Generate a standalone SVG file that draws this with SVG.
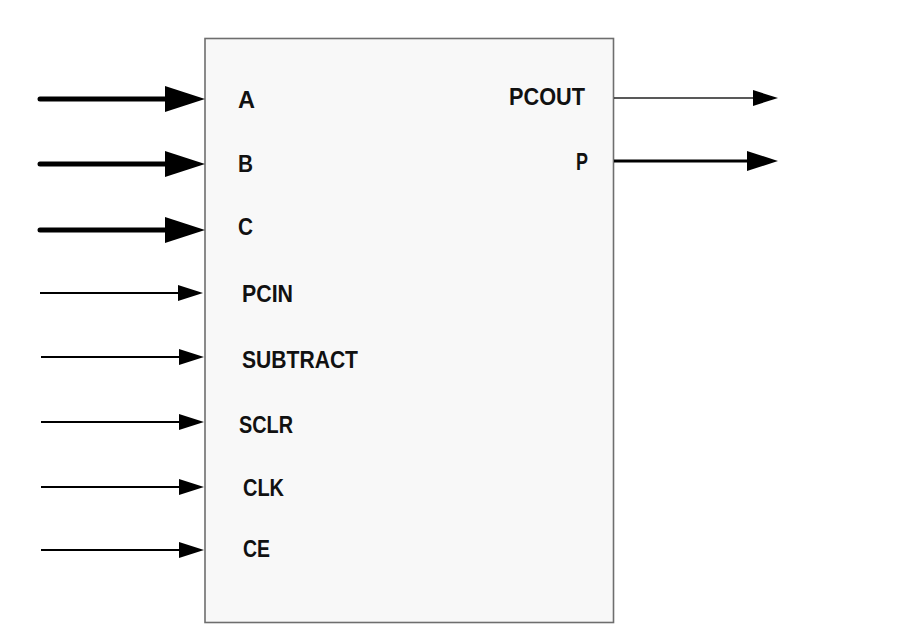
<svg xmlns="http://www.w3.org/2000/svg" width="899" height="642" viewBox="0 0 899 642">
<style>
.lbl{font-family:"Liberation Sans",Arial,sans-serif;font-weight:bold;font-size:24px;fill:#111;}
.thick{stroke:#000;stroke-width:5;stroke-linecap:round;fill:none;}
.thin{stroke:#000;stroke-width:2;fill:none;}
.out1{stroke:#222;stroke-width:1.6;fill:none;}
.out2{stroke:#000;stroke-width:3;fill:none;}
</style>
<defs>
<marker id="hBig" markerUnits="userSpaceOnUse" markerWidth="40" markerHeight="26" refX="0" refY="13" orient="auto" overflow="visible"><path d="M0,0 L40,13 L0,26 Z" fill="#000"/></marker>
<marker id="hSmall" markerUnits="userSpaceOnUse" markerWidth="25" markerHeight="16" refX="0" refY="8" orient="auto" overflow="visible"><path d="M0,0 L25,8 L0,16 Z" fill="#000"/></marker>
<marker id="hMid" markerUnits="userSpaceOnUse" markerWidth="31" markerHeight="20" refX="0" refY="10" orient="auto" overflow="visible"><path d="M0,0 L31,10 L0,20 Z" fill="#000"/></marker>
</defs>
<rect width="899" height="642" fill="#fff"/>
<g id="block">
<rect x="205" y="38.5" width="408.5" height="584" fill="#f8f8f8" stroke="#6e6e6e" stroke-width="1.6"/>
<text class="lbl" x="238" y="108" textLength="17" lengthAdjust="spacingAndGlyphs">A</text>
<text class="lbl" x="238" y="172" textLength="15" lengthAdjust="spacingAndGlyphs">B</text>
<text class="lbl" x="238" y="235" textLength="15" lengthAdjust="spacingAndGlyphs">C</text>
<text class="lbl" x="242" y="302" textLength="51" lengthAdjust="spacingAndGlyphs">PCIN</text>
<text class="lbl" x="242" y="368" textLength="116" lengthAdjust="spacingAndGlyphs">SUBTRACT</text>
<text class="lbl" x="239" y="433" textLength="54" lengthAdjust="spacingAndGlyphs">SCLR</text>
<text class="lbl" x="243" y="496" textLength="41" lengthAdjust="spacingAndGlyphs">CLK</text>
<text class="lbl" x="243" y="557" textLength="27" lengthAdjust="spacingAndGlyphs">CE</text>
<text class="lbl" x="509" y="105" textLength="76" lengthAdjust="spacingAndGlyphs">PCOUT</text>
<text class="lbl" x="576" y="170" textLength="12" lengthAdjust="spacingAndGlyphs">P</text>
</g>
<g id="connectors">
<line class="thick" x1="40" y1="99" x2="165" y2="99" marker-end="url(#hBig)"/>
<line class="thick" x1="40" y1="164" x2="165" y2="164" marker-end="url(#hBig)"/>
<line class="thick" x1="40" y1="230" x2="165" y2="230" marker-end="url(#hBig)"/>
<line class="thin" x1="40" y1="293" x2="178" y2="293" marker-end="url(#hSmall)"/>
<line class="thin" x1="41" y1="357" x2="179" y2="357" marker-end="url(#hSmall)"/>
<line class="thin" x1="41" y1="422" x2="179" y2="422" marker-end="url(#hSmall)"/>
<line class="thin" x1="41" y1="487" x2="179" y2="487" marker-end="url(#hSmall)"/>
<line class="thin" x1="41" y1="550" x2="179" y2="550" marker-end="url(#hSmall)"/>
<line class="out1" x1="614" y1="98" x2="753" y2="98" marker-end="url(#hSmall)"/>
<line class="out2" x1="614" y1="161" x2="747" y2="161" marker-end="url(#hMid)"/>
</g>
</svg>
